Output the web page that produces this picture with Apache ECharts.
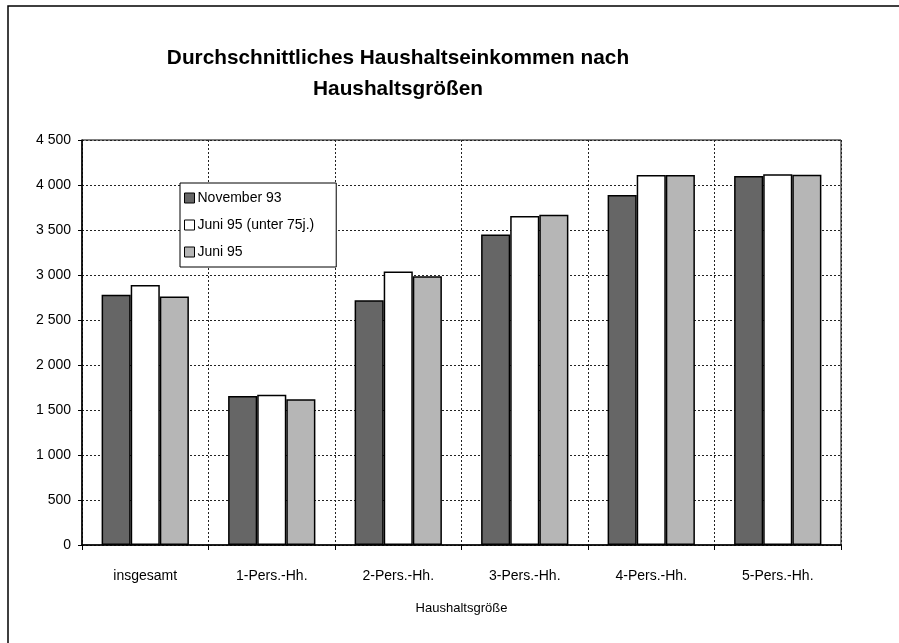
<!DOCTYPE html>
<html>
<head>
<meta charset="utf-8">
<script src="https://cdn.jsdelivr.net/npm/echarts@6/dist/echarts.min.js"></script>
<style>
html,body{margin:0;padding:0;background:#fff;}
#chart{width:899px;height:643px;}
</style>
</head>
<body>
<div id="chart"></div>
<script>
var categories = ['insgesamt', '1-Pers.-Hh.', '2-Pers.-Hh.', '3-Pers.-Hh.', '4-Pers.-Hh.', '5-Pers.-Hh.'];
var seriesNames = ['November 93', 'Juni 95 (unter 75j.)', 'Juni 95'];
var nov93 = [2780, 1655, 2720, 3450, 3890, 4100];
var juni95u75 = [2890, 1670, 3040, 3655, 4110, 4120];
var juni95 = [2760, 1620, 2985, 3670, 4110, 4115];
var titleLines = ['Durchschnittliches Haushaltseinkommen nach', 'Haushaltsgrößen'];
var xAxisName = 'Haushaltsgröße';

var font = '"Liberation Sans", Arial, sans-serif';
var chart = echarts.init(document.getElementById('chart'));

function fmt(v){
  var s = String(v);
  if (s.length > 3) s = s.slice(0, s.length-3) + ' ' + s.slice(s.length-3);
  return s;
}

var colors = ['#666666', '#ffffff', '#b6b6b6'];
var datas = [nov93, juni95u75, juni95];

chart.setOption({
  animation: false,
  backgroundColor: '#fff',
  title: {
    text: titleLines.join('\n'),
    left: 393,
    textAlign: 'center',
    top: 38,
    textStyle: {fontFamily: font, fontSize: 20.8, fontWeight: 'bold', color: '#000', lineHeight: 31}
  },
  legend: {
    orient: 'vertical',
    left: 180,
    top: 183,
    itemWidth: 10,
    itemHeight: 10,
    itemGap: 13,
    padding: [8, 22, 8, 4],
    borderColor: '#000',
    borderWidth: 1,
    backgroundColor: '#fff',
    textStyle: {fontFamily: font, fontSize: 14, color: '#000', padding: [0,0,0,-2]},
    data: seriesNames.map(function(n, i){ return {name: n, icon: 'rect', itemStyle: {color: colors[i], borderColor: '#000', borderWidth: 1}}; })
  },
  grid: {left: 82, top: 140, width: 759, height: 405, show: true, borderColor: '#000', borderWidth: 1},
  xAxis: {
    type: 'category',
    data: categories,
    name: xAxisName,
    nameLocation: 'middle',
    nameGap: 57,
    nameTextStyle: {fontFamily: font, fontSize: 13, color: '#000'},
    axisLine: {lineStyle: {color: '#000', width: 1.5}},
    axisTick: {show: true, length: 5, lineStyle: {color: '#000'}},
    axisLabel: {fontFamily: font, fontSize: 14, color: '#000', margin: 24},
    splitLine: {show: true, lineStyle: {color: '#222', type: [2, 2], width: 1}}
  },
  yAxis: {
    type: 'value',
    min: 0,
    max: 4500,
    interval: 500,
    axisLine: {show: true, lineStyle: {color: '#000', width: 1.5}},
    axisTick: {show: true, length: 4, lineStyle: {color: '#000'}},
    axisLabel: {fontFamily: font, fontSize: 14, color: '#000', margin: 11, formatter: fmt},
    splitLine: {show: true, lineStyle: {color: '#222', type: [2, 2], width: 1}}
  },
  series: datas.map(function(d, i){
    return {
      name: seriesNames[i],
      type: 'bar',
      data: d,
      barGap: '0%',
      barCategoryGap: '31%',
      itemStyle: {color: colors[i], borderColor: '#000', borderWidth: 1.5}
    };
  }),
  graphic: [{
    type: 'rect',
    shape: {x: 8, y: 6, width: 950, height: 700},
    style: {fill: 'none', stroke: '#000', lineWidth: 1.5},
    silent: true
  }]
});
</script>
</body>
</html>
